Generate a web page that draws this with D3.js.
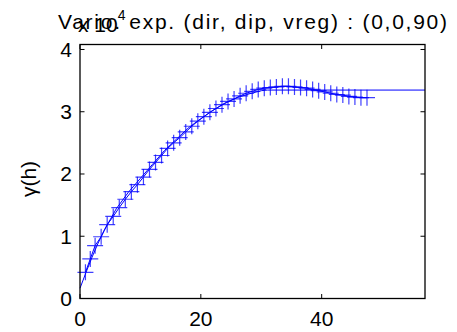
<!DOCTYPE html>
<html><head><meta charset="utf-8">
<script src="https://cdn.jsdelivr.net/npm/d3@7"></script>
<style>body{margin:0;background:#fff}svg{display:block}text{font-family:"Liberation Sans",Arial,Helvetica,sans-serif;fill:#000}</style>
</head><body><svg id="c" width="457" height="332"></svg>
<script>
// experimental variogram (lag distance, gamma, units of 1e4)
const lags = [0.9,1.7,2.5,3.5,4.5,5.5,6.5,7.5,8.5,9.5,10.5,11.5,12.5,13.5,14.5,15.5,16.5,17.5,18.5,19.5,20.5,21.5,22.5,23.5,24.5,25.5,26.5,27.5,28.5,29.5,30.5,31.5,32.5,33.5,34.5,35.5,36.5,37.5,38.5,39.5,40.5,41.5,42.5,43.5,44.5,45.5,46.5,47.5];
const gammaExp = [0.42,0.635,0.849,0.992,1.186,1.318,1.461,1.594,1.716,1.828,1.951,2.073,2.185,2.297,2.41,2.501,2.583,2.675,2.767,2.848,2.92,2.991,3.052,3.114,3.165,3.205,3.256,3.297,3.328,3.358,3.379,3.389,3.399,3.409,3.409,3.399,3.389,3.379,3.358,3.338,3.318,3.297,3.277,3.267,3.246,3.236,3.226,3.226];
// fitted model curve
const modelH = [0,1,2,3,4,6,8,10,12,14,16,18,20,22,24,26,28,30,31,57.1];
const modelG = [0.165,0.42,0.665,0.89,1.094,1.441,1.706,1.93,2.155,2.379,2.563,2.746,2.889,3.022,3.134,3.226,3.287,3.338,3.348,3.348];
const xTicks = [0,20,40];
const yTicks = [0,1,2,3,4];
const titleText = "Vario. exp. (dir, dip, vreg) : (0,0,90)";
const yLabel = "γ(h)";

const L=80,R=425,T=44.5,B=298.5;
const svg=d3.select("#c");
const x=d3.scaleLinear().domain([0,57.1]).range([L,R]);
const y=d3.scaleLinear().domain([0,4.08]).range([B,T]);
const fs=21;

const g=svg.append("g");
const line=d3.line().x(d=>x(d[0])).y(d=>y(d[1]));
g.append("path").datum(d3.zip(modelH,modelG)).attr("d",line).attr("fill","none").attr("stroke","#0000ff").attr("stroke-width",1);
const pts=d3.zip(lags,gammaExp);
g.append("path").datum(pts).attr("d",line).attr("fill","none").attr("stroke","#0000ff").attr("stroke-width",1);
const m=8;
g.selectAll("path.mk").data(pts).enter().append("path").attr("class","mk")
 .attr("d",d=>{const cx=x(d[0]),cy=y(d[1]);return `M${cx-m},${cy}H${cx+m}M${cx},${cy-m}V${cy+m}`;})
 .attr("stroke","#0000ff").attr("stroke-opacity",0.75).attr("stroke-width",1.2).attr("fill","none");

svg.append("rect").attr("x",L).attr("y",T).attr("width",R-L).attr("height",B-T).attr("fill","none").attr("stroke","#000").attr("stroke-width",1.3);
const tl=4.5;
const ax=svg.append("g").attr("stroke","#000").attr("stroke-width",1);
xTicks.forEach(t=>{ax.append("line").attr("x1",x(t)).attr("x2",x(t)).attr("y1",B).attr("y2",B-tl);ax.append("line").attr("x1",x(t)).attr("x2",x(t)).attr("y1",T).attr("y2",T+tl);});
yTicks.forEach(t=>{ax.append("line").attr("y1",y(t)).attr("y2",y(t)).attr("x1",L).attr("x2",L+tl);ax.append("line").attr("y1",y(t)).attr("y2",y(t)).attr("x1",R).attr("x2",R-tl);});
svg.selectAll("text.xt").data(xTicks).enter().append("text").attr("x",d=>x(d)).attr("y",325.5).attr("text-anchor","middle").attr("font-size",fs).text(d=>d);
svg.selectAll("text.yt").data(yTicks).enter().append("text").attr("x",72).attr("y",d=>y(d)+7.5).attr("text-anchor","end").attr("font-size",fs).text(d=>d);
svg.append("text").attr("transform","translate(36,179) rotate(-90)").attr("text-anchor","middle").attr("font-size",fs).text(yLabel);
const ex=svg.append("text").attr("x",78).attr("y",31.5).attr("font-size",fs);
ex.append("tspan").text("x 10");
ex.append("tspan").attr("font-size",14).attr("dy",-12).text("4");
svg.append("text").attr("x",(L+R)/2).attr("y",28.5).attr("text-anchor","middle").attr("font-size",fs)
 .attr("textLength",389).attr("lengthAdjust","spacing").text(titleText);
</script></body></html>
